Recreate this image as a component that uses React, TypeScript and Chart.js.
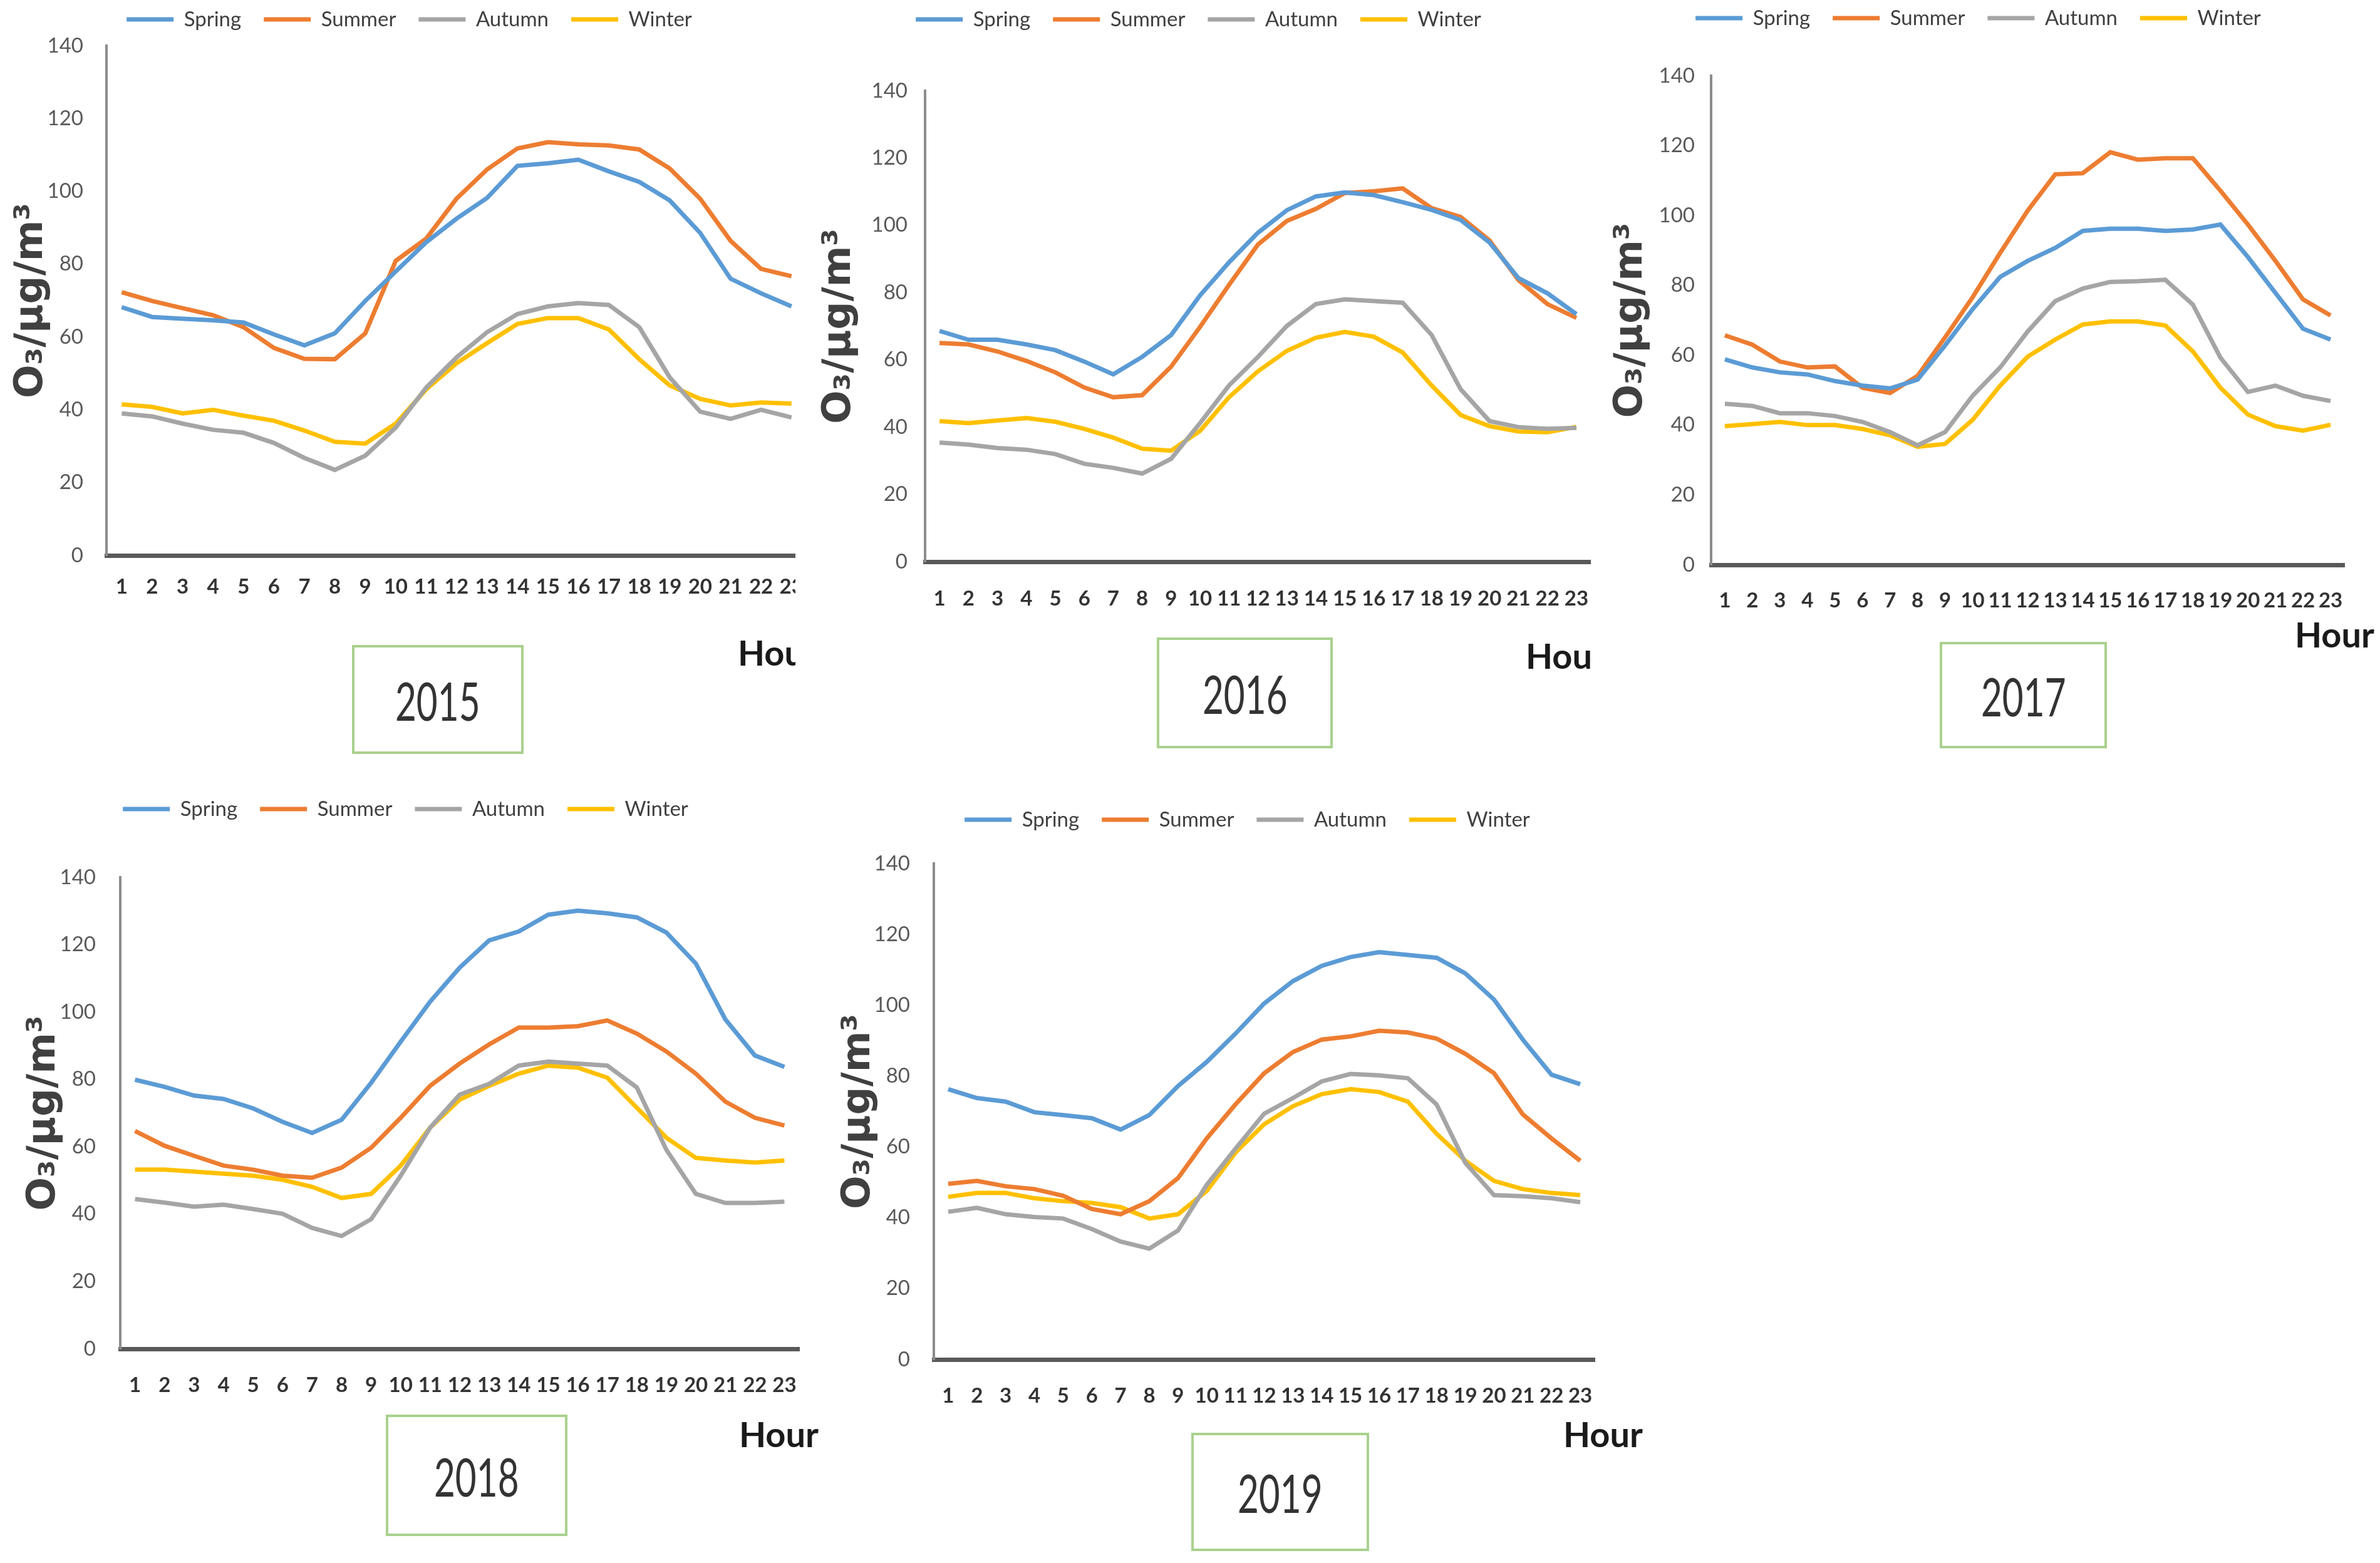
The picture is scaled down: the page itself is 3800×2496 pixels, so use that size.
import { useEffect, useRef } from "react"
import { Chart, registerables } from "chart.js"

Chart.register(...registerables)

// ---- data ----
const hours = ["1", "2", "3", "4", "5", "6", "7", "8", "9", "10", "11", "12", "13", "14", "15", "16", "17", "18", "19", "20", "21", "22", "23"]
const seasons = ["Spring", "Summer", "Autumn", "Winter"]
const years = ["2015", "2016", "2017", "2018", "2019"]
const yTicks = [0, 20, 40, 60, 80, 100, 120, 140]

const spring2015 = [68.2, 65.5, 65.0, 64.6, 64.0, 60.7, 57.7, 61.0, 69.9, 78.0, 86.0, 92.5, 98.2, 107.0, 107.7, 108.7, 105.5, 102.6, 97.5, 88.6, 76.0, 72.0, 68.4]
const summer2015 = [72.3, 69.9, 67.9, 66.0, 62.7, 57.0, 54.0, 53.9, 61.0, 80.9, 87.0, 98.0, 106.0, 111.8, 113.5, 112.9, 112.6, 111.5, 106.3, 98.0, 86.4, 78.7, 76.7]
const autumn2015 = [39.0, 38.2, 36.2, 34.5, 33.7, 30.9, 26.8, 23.5, 27.4, 35.1, 46.1, 54.4, 61.3, 66.3, 68.4, 69.3, 68.8, 62.7, 48.9, 39.5, 37.5, 40.0, 37.9]
const winter2015 = [41.5, 40.8, 39.0, 40.0, 38.4, 37.0, 34.3, 31.2, 30.7, 36.2, 45.6, 52.8, 58.3, 63.6, 65.2, 65.2, 62.1, 53.9, 46.7, 43.0, 41.2, 42.0, 41.7]

const spring2016 = [68.6, 66.0, 66.0, 64.6, 62.9, 59.5, 55.7, 60.9, 67.4, 79.2, 89.0, 97.8, 104.5, 108.6, 109.8, 109.0, 106.9, 104.6, 101.6, 94.9, 84.3, 79.8, 73.6]
const summer2016 = [65.0, 64.6, 62.5, 59.7, 56.3, 51.8, 48.9, 49.5, 58.0, 69.8, 82.3, 94.3, 101.3, 104.9, 109.6, 110.1, 111.0, 105.1, 102.5, 95.5, 83.7, 76.6, 72.5]
const autumn2016 = [35.4, 34.8, 33.8, 33.3, 32.0, 29.1, 27.9, 26.2, 30.6, 41.2, 52.4, 60.9, 70.1, 76.6, 78.0, 77.5, 77.0, 67.4, 51.3, 41.8, 40.0, 39.5, 39.8]
const winter2016 = [41.8, 41.2, 42.0, 42.7, 41.6, 39.5, 36.9, 33.6, 33.0, 38.9, 48.9, 56.6, 62.7, 66.6, 68.3, 66.9, 62.2, 52.4, 43.6, 40.3, 38.7, 38.5, 40.1]

const spring2017 = [58.8, 56.5, 55.1, 54.5, 52.6, 51.3, 50.5, 53.0, 62.8, 73.2, 82.4, 87.0, 90.7, 95.6, 96.2, 96.2, 95.6, 96.0, 97.4, 88.1, 77.8, 67.6, 64.5]
const summer2017 = [65.7, 63.0, 58.2, 56.5, 56.8, 50.7, 49.2, 54.1, 65.1, 76.6, 89.3, 101.4, 111.8, 112.1, 118.1, 116.0, 116.4, 116.4, 107.1, 97.4, 87.0, 76.0, 71.4]
const autumn2017 = [46.1, 45.5, 43.4, 43.4, 42.6, 40.9, 38.0, 34.2, 38.0, 48.4, 56.5, 66.8, 75.5, 79.1, 81.0, 81.2, 81.6, 74.5, 59.3, 49.5, 51.3, 48.4, 46.9]
const winter2017 = [39.7, 40.3, 40.9, 40.0, 40.0, 38.9, 37.1, 33.8, 34.6, 41.5, 51.3, 59.6, 64.5, 68.8, 69.7, 69.7, 68.5, 61.1, 50.7, 43.0, 39.7, 38.4, 40.1]

const spring2018 = [79.9, 77.8, 75.2, 74.2, 71.4, 67.4, 64.1, 68.0, 79.0, 91.2, 103.1, 113.2, 121.3, 123.9, 128.9, 130.1, 129.3, 128.1, 123.6, 114.4, 97.8, 87.1, 83.7]
const summer2018 = [64.7, 60.3, 57.3, 54.4, 53.2, 51.4, 50.8, 53.8, 59.7, 68.6, 78.1, 84.7, 90.4, 95.4, 95.4, 95.8, 97.5, 93.6, 88.3, 81.7, 73.4, 68.6, 66.3]
const autumn2018 = [44.5, 43.4, 42.2, 42.8, 41.5, 40.1, 35.9, 33.5, 38.5, 51.4, 65.7, 75.5, 78.7, 84.1, 85.3, 84.7, 84.1, 77.6, 59.1, 46.0, 43.3, 43.3, 43.7]
const winter2018 = [53.2, 53.2, 52.6, 52.0, 51.4, 50.2, 48.1, 44.8, 46.0, 54.4, 65.7, 74.0, 78.1, 81.7, 84.1, 83.5, 80.5, 71.6, 62.7, 56.7, 55.9, 55.3, 55.9]

const spring2019 = [76.3, 73.8, 72.8, 69.8, 69.0, 68.1, 64.9, 69.0, 77.2, 84.0, 92.0, 100.5, 106.8, 111.1, 113.6, 115.0, 114.2, 113.4, 109.0, 101.6, 90.3, 80.4, 77.7]
const summer2019 = [49.6, 50.4, 48.9, 48.1, 46.2, 42.5, 41.0, 44.7, 51.2, 62.4, 72.0, 80.8, 86.8, 90.3, 91.2, 92.8, 92.3, 90.6, 86.3, 80.8, 69.2, 62.4, 56.1]
const autumn2019 = [41.7, 42.8, 41.0, 40.2, 39.8, 36.8, 33.3, 31.3, 36.4, 49.3, 59.5, 69.4, 73.8, 78.5, 80.6, 80.2, 79.4, 72.0, 55.5, 46.4, 46.1, 45.5, 44.4]
const winter2019 = [45.9, 47.0, 47.0, 45.5, 44.7, 44.2, 43.0, 39.8, 41.0, 47.6, 58.4, 66.4, 71.5, 74.9, 76.3, 75.5, 72.8, 63.7, 56.1, 50.4, 48.1, 47.0, 46.4]

const seriesByYear = [
  [spring2015, summer2015, autumn2015, winter2015],
  [spring2016, summer2016, autumn2016, winter2016],
  [spring2017, summer2017, autumn2017, winter2017],
  [spring2018, summer2018, autumn2018, winter2018],
  [spring2019, summer2019, autumn2019, winter2019],
]

// ---- styles / layout ----
const seasonColors = ["#5B9BD5", "#ED7D31", "#A5A5A5", "#FFC000"]
const NARROW = 'Lato, "DejaVu Sans Condensed", sans-serif'
const LEGEND_FONT = 33
const LEGEND_PAD = 36

interface PanelLayout {
  left: number // canvas left (page px)
  top: number // canvas top
  axisX: number // y axis line
  topY: number // pixel of 140
  zeroY: number // pixel of 0
  chartRight: number
  bottom: number // canvas bottom
  clipRight: number
  legendX: number // legend centre
  legendY: number
  yPad: number
  xPad: number
  box: [number, number, number, number]
  hour: [number, number]
}

const layouts: PanelLayout[] = [
  { left: 13, top: 1, axisX: 170, topY: 73, zeroY: 887, chartRight: 1288, bottom: 975, clipRight: 1270, legendX: 676, legendY: 31, yPad: 37, xPad: 31, box: [562, 1030, 274, 174], hour: [1178, 1042] },
  { left: 1303, top: 1, axisX: 1477, topY: 145, zeroY: 897, chartRight: 2540, bottom: 990, clipRight: 2540, legendX: 1936, legendY: 31, yPad: 28, xPad: 40, box: [1847, 1018, 281, 177], hour: [2436, 1047] },
  { left: 2567, top: 0, axisX: 2732, topY: 121, zeroY: 902, chartRight: 3743, bottom: 990, clipRight: 3800, legendX: 3181, legendY: 29, yPad: 26, xPad: 38, box: [3097, 1025, 267, 170], hour: [3664, 1013] },
  { left: 33, top: 1262, axisX: 192, topY: 1401, zeroY: 2154, chartRight: 1276, bottom: 2243, clipRight: 1400, legendX: 670, legendY: 1292, yPad: 39, xPad: 39, box: [616, 2259, 290, 194], hour: [1180, 2290] },
  { left: 1334, top: 1279, axisX: 1491, topY: 1379, zeroY: 2171, chartRight: 2546, bottom: 2260, clipRight: 2700, legendX: 2014, legendY: 1309, yPad: 38, xPad: 39, box: [1902, 2288, 284, 189], hour: [2496, 2290] },
]

function Panel({ year, series, lay }: { year: string; series: number[][]; lay: PanelLayout }) {
  const chartRef = useRef<HTMLCanvasElement>(null)
  const width = lay.chartRight + 45 - lay.left
  const height = lay.bottom - lay.top

  useEffect(() => {
    if (!chartRef.current) return
    const ctx = chartRef.current.getContext("2d")
    if (!ctx) return

    const legendH = lay.topY - lay.top
    const dx = lay.legendX - (lay.left + width / 2)
    const dy = lay.legendY - (lay.top + LEGEND_PAD + LEGEND_FONT / 2)

    // fixes the legend height and moves it to where the reference has it
    const legendPlacer = {
      id: "legendPlacer",
      beforeInit(chart: any) {
        const lg = chart.legend
        if (!lg) return
        const fit = lg.fit.bind(lg)
        lg.fit = () => {
          fit()
          lg.height = legendH
        }
        const draw = lg.draw.bind(lg)
        lg.draw = () => {
          chart.ctx.save()
          chart.ctx.translate(dx, dy)
          draw()
          chart.ctx.restore()
        }
      },
    }

    const chart = new Chart(ctx, {
      type: "line",
      data: {
        labels: hours,
        datasets: seasons.map((s, i) => ({
          label: s,
          data: series[i],
          borderColor: seasonColors[i],
          backgroundColor: seasonColors[i],
          borderWidth: 7,
          pointRadius: 0,
          tension: 0,
        })),
      },
      options: {
        responsive: false,
        animation: false,
        devicePixelRatio: 1,
        layout: { padding: { left: 0, top: 0, bottom: 0, right: 45 }, autoPadding: false },
        plugins: {
          tooltip: { enabled: false },
          legend: {
            position: "top",
            labels: {
              usePointStyle: true,
              pointStyle: "line",
              pointStyleWidth: 75,
              boxHeight: LEGEND_FONT,
              padding: LEGEND_PAD,
              color: "#404040",
              font: { family: NARROW, size: LEGEND_FONT },
            },
          },
        },
        scales: {
          x: {
            offset: true,
            grid: { display: false, drawTicks: false, offset: true },
            border: { color: "#595959", width: 7 },
            ticks: {
              color: "#333333",
              font: { family: NARROW, size: 33, weight: "bold" },
              padding: lay.xPad,
              maxRotation: 0,
              autoSkip: false,
            },
            afterFit: (s: any) => {
              s.height = lay.bottom - lay.zeroY
            },
          },
          y: {
            min: yTicks[0],
            max: yTicks[yTicks.length - 1],
            grid: { display: false, drawTicks: false },
            border: { color: "#8c8c8c", width: 4 },
            ticks: {
              stepSize: yTicks[1] - yTicks[0],
              color: "#595959",
              font: { family: NARROW, size: 33 },
              padding: lay.yPad,
            },
            title: {
              display: true,
              text: "O₃/μg/m³",
              color: "#404040",
              font: { family: '"DejaVu Sans", sans-serif', size: 63, weight: "bold" },
              padding: 0,
            },
            afterFit: (s: any) => {
              s.width = lay.axisX - lay.left
            },
          },
        },
      } as any,
      plugins: [legendPlacer],
    })

    return () => {
      chart.destroy()
    }
  }, [year, series, lay, width])

  return (
    <>
      <div
        style={{
          position: "absolute",
          left: lay.left,
          top: lay.top,
          width: Math.min(width, lay.clipRight - lay.left),
          height,
          overflow: "hidden",
        }}
      >
        <canvas ref={chartRef} width={width} height={height} style={{ width, height, display: "block" }} />
      </div>
      <div
        style={{
          position: "absolute",
          left: lay.hour[0],
          top: lay.hour[1] - 35,
          width: Math.max(0, lay.clipRight - lay.hour[0]),
          height: 70,
          overflow: "hidden",
          font: `bold 56px ${NARROW}`,
          lineHeight: "70px",
          color: "#1a1a1a",
          whiteSpace: "nowrap",
        }}
      >
        Hour
      </div>
      <div
        style={{
          position: "absolute",
          left: lay.box[0],
          top: lay.box[1],
          width: lay.box[2],
          height: lay.box[3],
          boxSizing: "border-box",
          border: "4px solid #A9D18E",
          display: "flex",
          alignItems: "center",
          justifyContent: "center",
          font: `86px ${NARROW}`,
          color: "#333333",
        }}
      >
        <span style={{ display: "inline-block", transform: "scaleX(0.68)" }}>{year}</span>
      </div>
    </>
  )
}

export default function App() {
  return (
    <div style={{ position: "relative", width: 3800, height: 2496, background: "#ffffff", overflow: "hidden" }}>
      <style>{"body{margin:0}"}</style>
      {years.map((y, i) => (
        <Panel key={y} year={y} series={seriesByYear[i]} lay={layouts[i]} />
      ))}
    </div>
  )
}
